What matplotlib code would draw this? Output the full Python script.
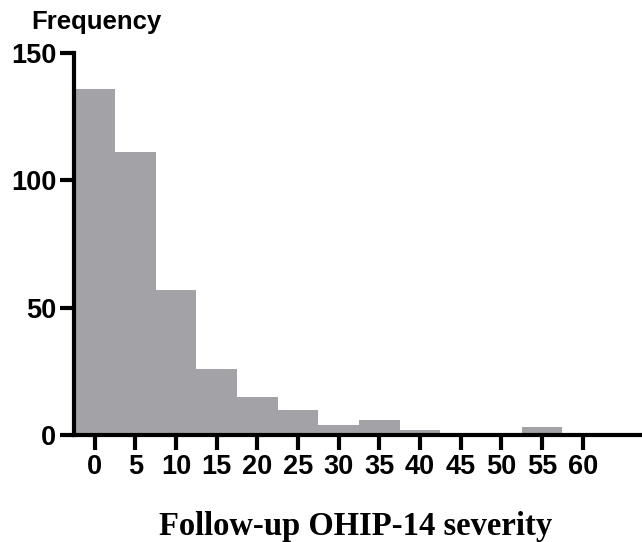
import matplotlib
matplotlib.use("Agg")
import matplotlib.pyplot as plt

# Histogram of follow-up OHIP-14 severity scores (bins of width 5)
bin_centers = [0, 5, 10, 15, 20, 25, 30, 35, 40, 45, 50, 55, 60]
frequencies = [136, 111, 57, 26, 15, 10, 4, 6, 2, 0, 0, 3, 0]
x_ticks = [0, 5, 10, 15, 20, 25, 30, 35, 40, 45, 50, 55, 60]
y_ticks = [0, 50, 100, 150]

fig = plt.figure(figsize=(6.42, 5.42), dpi=100)
ax = fig.add_axes([0.116, 0.1974, 0.884, 0.7048])

ax.bar(bin_centers, frequencies, width=5, align="center",
       color="#a3a2a7", edgecolor="none", zorder=1)

ax.set_xlim(-2.5, 67.3)
ax.set_ylim(0, 150)

for side in ("top", "right"):
    ax.spines[side].set_visible(False)
for side in ("left", "bottom"):
    ax.spines[side].set_linewidth(3.0)
    ax.spines[side].set_zorder(3)
ax.spines["left"].set_bounds(0, 150)

ax.set_xticks(x_ticks)
ax.set_yticks(y_ticks)
ax.tick_params(axis="x", direction="out", length=11, width=3, pad=3)
ax.tick_params(axis="y", direction="out", length=10, width=3, pad=3)

tick_font = dict(family="Liberation Sans", weight="bold", size=19.5)
ax.set_xticklabels([str(v) for v in x_ticks], **tick_font)
ax.set_yticklabels([str(v) for v in y_ticks], **tick_font)

fig.text(96 / 642, 1 - 29.5 / 542, "Frequency", ha="center", va="baseline",
         family="Liberation Sans", weight="bold", size=18.5)
fig.text(356 / 642, 1 - 535 / 542, "Follow-up OHIP-14 severity",
         ha="center", va="baseline",
         family="Liberation Serif", weight="bold", size=23.5)

fig.savefig("out.png", dpi=100)
